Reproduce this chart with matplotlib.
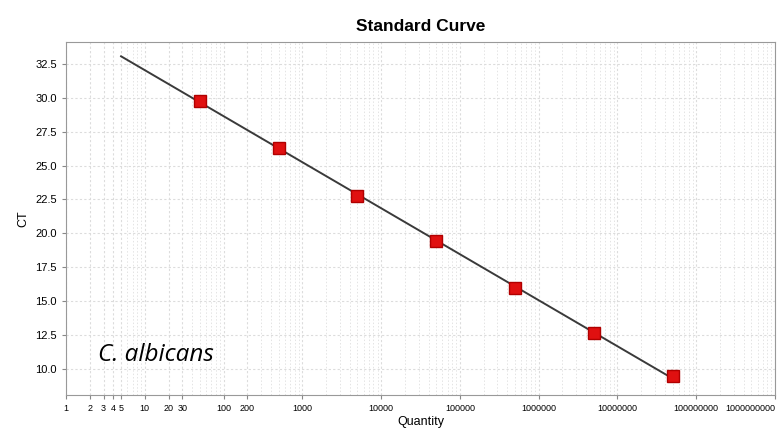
"""Standard curve (qPCR) for C. albicans."""

import numpy as np
import matplotlib
matplotlib.use("Agg")
import matplotlib.pyplot as plt
from matplotlib.ticker import FixedLocator, LogLocator, NullFormatter

plt.rcParams["font.family"] = ["Liberation Sans", "DejaVu Sans"]

quantity = [50, 500, 5000, 50000, 500000, 5000000, 50000000]
ct_values = [29.77, 26.3, 22.77, 19.45, 15.98, 12.66, 9.49]
fit_range = [5, 50000000]

x_ticks = [1, 2, 3, 4, 5, 10, 20, 30, 100, 200, 1000, 10000, 100000,
           1000000, 10000000, 100000000, 1000000000]
y_ticks = [10.0, 12.5, 15.0, 17.5, 20.0, 22.5, 25.0, 27.5, 30.0, 32.5]

fig = plt.figure(figsize=(7.83, 4.34), dpi=100)
ax = fig.add_axes([0.0843, 0.0899, 0.9055, 0.8133])

# regression line from the standards
slope, icpt = np.polyfit(np.log10(quantity), ct_values, 1)
xs = np.array(fit_range, dtype=float)
ax.plot(xs, slope * np.log10(xs) + icpt, color="#3a3a3a", lw=1.4, zorder=3)
ax.plot(quantity, ct_values, "s", color="#e01010", mec="#b00000", ms=9, zorder=4)

ax.set_xscale("log")
ax.set_xlim(1, 1e9)
ax.set_ylim(8.1, 34.1)

ax.xaxis.set_major_locator(FixedLocator(x_ticks))
ax.xaxis.set_major_formatter(plt.FuncFormatter(lambda v, p: f"{int(round(v))}"))
ax.xaxis.set_minor_locator(LogLocator(base=10, subs=np.arange(2, 10)))
ax.xaxis.set_minor_formatter(NullFormatter())
ax.set_yticks(y_ticks)
ax.set_yticklabels([f"{v:.1f}" for v in y_ticks])

ax.grid(which="major", color="#dcdcdc", ls=(0, (2, 2)), lw=0.8)
ax.grid(which="minor", axis="x", color="#e4e4e4", ls=(0, (1.5, 2)), lw=0.7)
ax.set_axisbelow(True)

ax.tick_params(axis="x", which="major", labelsize=6.5, length=3, color="#888888")
ax.tick_params(axis="x", which="minor", length=0)
ax.tick_params(axis="y", labelsize=8, length=3, color="#888888")
for s in ax.spines.values():
    s.set_color("#999999")

fig.canvas.draw()
ax.get_xticklabels()[-1].set_ha("right")

ax.set_title("Standard Curve", fontsize=12.5, fontweight="bold", pad=8)
ax.set_xlabel("Quantity", fontsize=9, labelpad=2)
ax.set_ylabel("CT", fontsize=9)
ax.text(0.045, 0.095, "C. albicans", transform=ax.transAxes, fontsize=17.5,
        style="italic", family="Open Sans")

fig.savefig("out.png", dpi=100)
